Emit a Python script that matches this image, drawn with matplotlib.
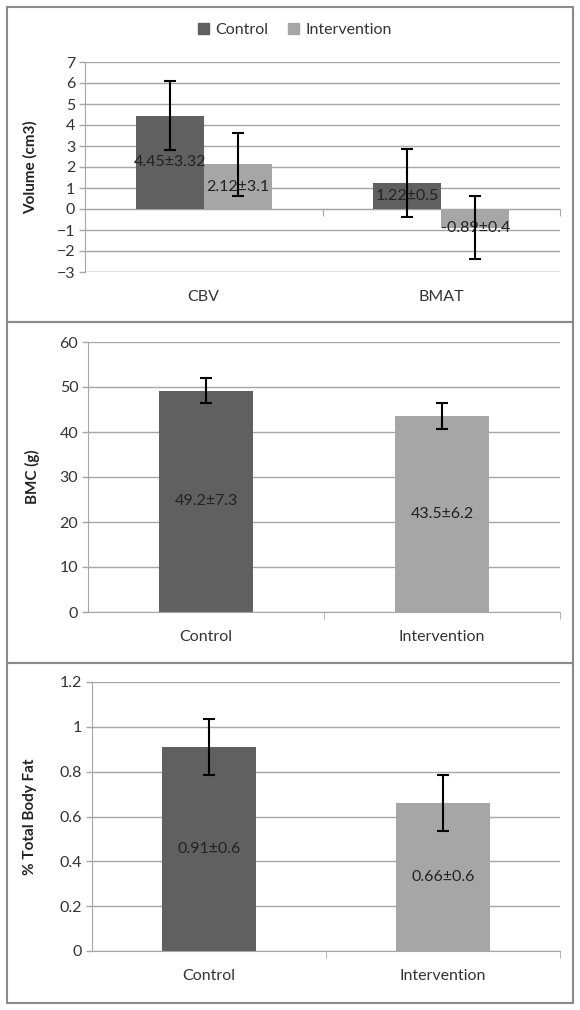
import matplotlib
matplotlib.use("Agg")
import matplotlib.pyplot as plt
import numpy as np
from matplotlib.patches import Rectangle, Patch

plt.rcParams['font.family'] = ['Lato', 'DejaVu Sans']

# panel 1: volume change
vol_groups = ["CBV", "BMAT"]
vol_control = [4.45, 1.22]
vol_interv = [2.12, -0.89]
vol_control_err = [1.63, 1.62]
vol_interv_err = [1.51, 1.49]
vol_control_lbl = ["4.45±3.32", "1.22±0.5"]
vol_interv_lbl = ["2.12±3.1", "-0.89±0.4"]

# panel 2: BMC
groups = ["Control", "Intervention"]
bmc = [49.2, 43.5]
bmc_err = [2.8, 2.85]
bmc_lbl = ["49.2±7.3", "43.5±6.2"]

# panel 3: body fat
fat = [0.91, 0.66]
fat_err = [0.124, 0.126]
fat_lbl = ["0.91±0.6", "0.66±0.6"]

DARK = "#606060"
LIGHT = "#a6a6a6"
GRID = "#a6a6a6"
TXT = "#333333"
FS = 11.5

W, H = 580, 1010
fig = plt.figure(figsize=(W / 100, H / 100), dpi=100)


def px_axes(left, right, top, bottom):
    return fig.add_axes([left / W, 1 - bottom / H, (right - left) / W, (bottom - top) / H])


def style(ax, ylim, yticks, ylabel, lblx):
    ax.set_xlim(-0.5, 1.5)
    ax.set_ylim(*ylim)
    ax.set_yticks(yticks)
    ax.yaxis.grid(True, color=GRID, lw=1)
    ax.set_axisbelow(True)
    for s in ["top", "right"]:
        ax.spines[s].set_visible(False)
    ax.spines["left"].set_color(GRID)
    ax.tick_params(axis="y", colors=GRID, labelcolor=TXT, labelsize=FS, length=4, width=1, pad=3)
    ax.tick_params(axis="x", which="major", length=0, labelcolor=TXT, labelsize=FS, pad=13)
    ax.set_ylabel(ylabel, fontsize=11, fontweight="bold", color="#222222")
    ax.yaxis.set_label_coords(lblx, 0.5)


# ---- panel 1
ax1 = px_axes(85, 560, 62, 272)
style(ax1, (-3, 7), range(-3, 8), "Volume (cm3)", -0.10)
x = np.arange(len(vol_groups))
bw = 0.286
ax1.bar(x - bw / 2, vol_control, bw, color=DARK, label="Control", zorder=2)
ax1.bar(x + bw / 2, vol_interv, bw, color=LIGHT, label="Intervention", zorder=2)
ax1.errorbar(x - bw / 2, vol_control, yerr=vol_control_err, fmt="none", ecolor="black",
             elinewidth=1.5, capsize=4, capthick=1.5, zorder=4)
ax1.errorbar(x + bw / 2, vol_interv, yerr=vol_interv_err, fmt="none", ecolor="black",
             elinewidth=1.5, capsize=4, capthick=1.5, zorder=4)
for xi, v, t in zip(x - bw / 2, vol_control, vol_control_lbl):
    ax1.text(xi, v / 2, t, ha="center", va="center", fontsize=FS, color="#222222", zorder=3)
for xi, v, t in zip(x + bw / 2, vol_interv, vol_interv_lbl):
    yy = v / 2 if v > 0 else v
    ax1.text(xi, yy, t, ha="center", va="center", fontsize=FS, color="#222222", zorder=3)
ax1.set_xticks(x)
ax1.set_xticklabels(vol_groups)
ax1.spines["bottom"].set_visible(False)
ax1.axhline(-3, color=GRID, lw=1, zorder=1)
zero_loc = (0 - (-3)) / 10
sec = ax1.secondary_xaxis(zero_loc)
sec.set_xticks([0.5, 1.5])
sec.set_xticklabels([])
sec.spines["bottom"].set_color(GRID)
sec.tick_params(axis="x", direction="out", length=5, colors=GRID)

handles = [Patch(color=DARK, label="Control"), Patch(color=LIGHT, label="Intervention")]
fig.legend(handles=handles, loc="center", bbox_to_anchor=(295 / W, 1 - 30 / H), ncol=2,
           frameon=False, handlelength=0.7, handleheight=0.7, handletextpad=0.4,
           columnspacing=1.2, fontsize=FS, labelcolor=TXT)

# ---- panel 2
ax2 = px_axes(88, 560, 342, 612)
style(ax2, (0, 60), range(0, 61, 10), "BMC (g)", -0.102)
x2 = np.arange(len(groups))
ax2.bar(x2, bmc, 0.4, color=[DARK, LIGHT], zorder=2)
ax2.errorbar(x2, bmc, yerr=bmc_err, fmt="none", ecolor="black", elinewidth=1.5,
             capsize=4, capthick=1.5, zorder=4)
for xi, v, t in zip(x2, bmc, bmc_lbl):
    ax2.text(xi, v / 2, t, ha="center", va="center", fontsize=FS, color="#222222", zorder=3)
ax2.set_xticks(x2)
ax2.set_xticklabels(groups)

# ---- panel 3
ax3 = px_axes(92, 560, 682, 951)
style(ax3, (0, 1.2), np.arange(0, 1.21, 0.2), "% Total Body Fat", -0.118)
ax3.set_yticklabels(["0", "0.2", "0.4", "0.6", "0.8", "1", "1.2"])
ax3.bar(x2, fat, 0.4, color=[DARK, LIGHT], zorder=2)
ax3.errorbar(x2, fat, yerr=fat_err, fmt="none", ecolor="black", elinewidth=1.5,
             capsize=4, capthick=1.5, zorder=4)
for xi, v, t in zip(x2, fat, fat_lbl):
    ax3.text(xi, v / 2, t, ha="center", va="center", fontsize=FS, color="#222222", zorder=3)
ax3.set_xticks(x2)
ax3.set_xticklabels(groups)

for ax in (ax2, ax3):
    ax.spines["bottom"].set_color(GRID)
    ax.set_xticks([0.5, 1.5], minor=True)
    ax.tick_params(axis="x", which="minor", length=5, colors=GRID)

# panel frames
for top, bottom in [(7, 322), (322, 663), (663, 1003)]:
    fig.add_artist(Rectangle((7 / W, 1 - bottom / H), 566 / W, (bottom - top) / H,
                             transform=fig.transFigure, fill=False, edgecolor="#8a8a8a", lw=1.5))

fig.savefig("out.png", dpi=100, facecolor="white")
